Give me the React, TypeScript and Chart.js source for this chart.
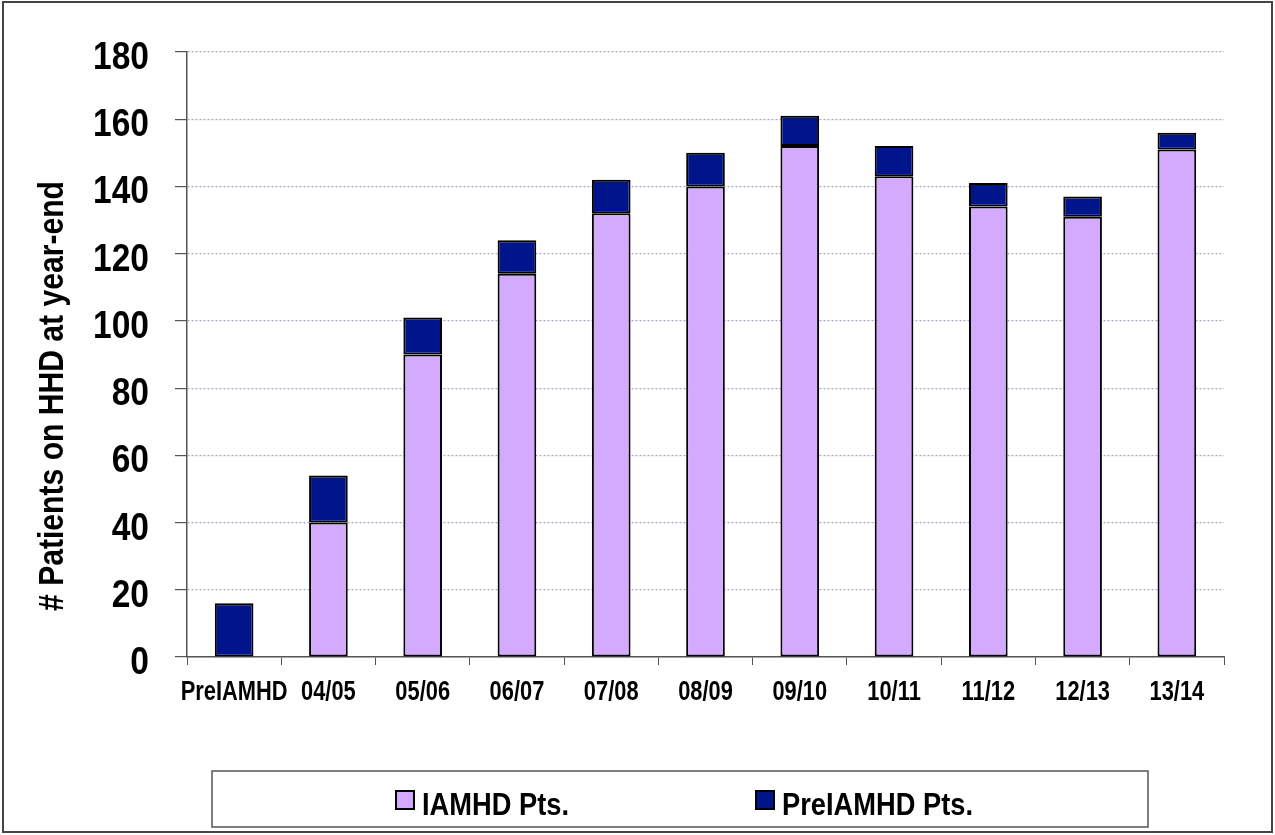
import React, { useEffect, useRef } from "react";
import { Chart, registerables } from "chart.js";

Chart.register(...registerables);

const categories = ["PreIAMHD", "04/05", "05/06", "06/07", "07/08", "08/09", "09/10", "10/11", "11/12", "12/13", "13/14"];
const iamhdPts = [null, 40, 90, 114, 132, 140, 152, 143, 134, 131, 151];
const preIamhdPts = [16, 14, 11, 10, 10, 10, 9, 9, 7, 6, 5];
const seriesLabels = ["IAMHD Pts.", "PreIAMHD Pts."];
const yAxisTitle = "# Patients on HHD at year-end";
const yMin = 0;
const yMax = 180;
const yStep = 20;

const FONT = "'Liberation Sans', Arial, sans-serif";
const PURPLE = "#D4AAFF";
const NAVY = "#00148C";

function drawScaled(ctx: any, text: string, x: number, y: number, sx: number) {
  ctx.save();
  ctx.translate(x, y);
  ctx.scale(sx, 1);
  ctx.fillText(text, 0, 0);
  ctx.restore();
}

const textPlugin = {
  id: "textAndFrame",
  afterDraw(chart: any) {
    const ctx = chart.ctx;
    const xs = chart.scales.x;
    const ys = chart.scales.y;
    ctx.save();
    ctx.fillStyle = "#000";

    // y tick labels
    ctx.font = `bold 39px ${FONT}`;
    ctx.textAlign = "right";
    ctx.textBaseline = "alphabetic";
    ys.ticks.forEach((t: any, i: number) => {
      const y = ys.getPixelForTick(i);
      drawScaled(ctx, String(t.label), 149, y + 17, 0.86);
    });

    // x tick labels
    ctx.font = `bold 27px ${FONT}`;
    ctx.textAlign = "center";
    xs.ticks.forEach((t: any, i: number) => {
      const x = xs.getPixelForTick(i);
      drawScaled(ctx, String(categories[i]), x, 700, 0.81);
    });

    // y title
    ctx.font = `bold 35px ${FONT}`;
    ctx.textAlign = "center";
    ctx.save();
    ctx.translate(63, 396);
    ctx.rotate(-Math.PI / 2);
    ctx.scale(0.86, 1);
    ctx.fillText(yAxisTitle, 0, 0);
    ctx.restore();

    // outer frame
    ctx.strokeStyle = "#444";
    ctx.lineWidth = 2;
    ctx.strokeRect(3, 2, 1269, 830);

    // legend box
    ctx.strokeStyle = "#555";
    ctx.lineWidth = 1.5;
    ctx.strokeRect(212, 771, 936, 56);
    const boxX = [396, 756];
    ctx.font = `bold 31px ${FONT}`;
    ctx.textAlign = "left";
    chart.data.datasets.forEach((d: any, i: number) => {
      const x = boxX[i];
      ctx.fillStyle = d.backgroundColor;
      ctx.fillRect(x, 791, 18, 18);
      ctx.strokeStyle = "#000";
      ctx.lineWidth = 2;
      ctx.strokeRect(x, 791, 18, 18);
      ctx.fillStyle = "#000";
      drawScaled(ctx, d.label, x + 26, 815, 0.88);
    });
    ctx.restore();
  },
};

export default function App() {
  const ref = useRef<HTMLCanvasElement | null>(null);
  useEffect(() => {
    if (!ref.current) return;
    const chart = new Chart(ref.current, {
      type: "bar",
      data: {
        labels: categories,
        datasets: [
          {
            label: seriesLabels[0],
            data: iamhdPts as any,
            backgroundColor: PURPLE,
            borderColor: "#000",
            borderWidth: 2,
            borderSkipped: false,
            stack: "s",
          },
          {
            label: seriesLabels[1],
            data: preIamhdPts,
            backgroundColor: NAVY,
            borderColor: "#000",
            borderWidth: 2,
            borderSkipped: false,
            stack: "s",
          },
        ],
      },
      options: {
        responsive: false,
        animation: false,
        layout: { padding: { left: 0, right: 51, top: 52, bottom: 118 } },
        datasets: { bar: { categoryPercentage: 1, barPercentage: 0.41 } },
        plugins: { legend: { display: false }, tooltip: { enabled: false } },
        scales: {
          x: {
            stacked: true,
            offset: true,
            grid: { offset: true, drawOnChartArea: false, drawTicks: true, tickLength: 8, color: "#555" },
            border: { display: true, color: "#555", width: 1.5 },
            ticks: { display: false, autoSkip: false },
            afterFit: (s: any) => { s.height = 60; },
          },
          y: {
            stacked: true,
            min: yMin,
            max: yMax,
            grid: { color: "#A6A6C8", tickColor: "#555", tickLength: 12, lineWidth: 1.2 },
            border: { display: true, color: "#555", width: 1.5, dash: [2, 2] },
            ticks: { display: false, stepSize: yStep },
            afterFit: (s: any) => { s.width = 187; },
          },
        },
      },
      plugins: [textPlugin],
    });
    return () => chart.destroy();
  }, []);
  return (
    <div style={{ position: "fixed", left: 0, top: 0, width: 1275, height: 835, background: "#fff" }}>
      <canvas ref={ref} width={1275} height={835} />
    </div>
  );
}
